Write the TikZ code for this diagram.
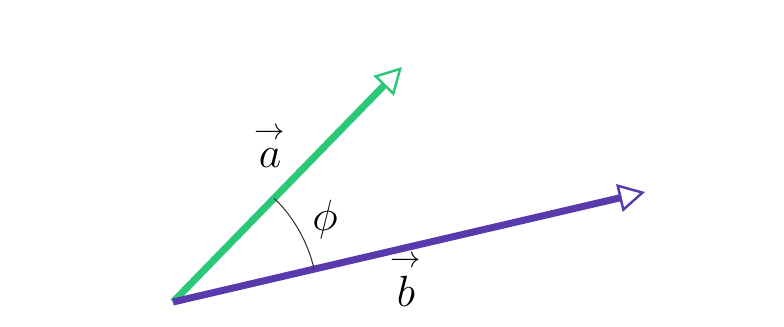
\documentclass[tikz,border=0pt]{standalone}
\usepackage{amsmath}
\usetikzlibrary{arrows.meta, calc}
\definecolor{vecgreen}{RGB}{44,200,122}
\definecolor{vecpurple}{RGB}{88,58,172}

\begin{document}
\begin{tikzpicture}[x=0.02cm, y=0.02cm,
  vecarrow/.style={line width=4pt,
    -{Triangle[open, length=15pt, width=16pt, line width=1.4pt]}},
  anglearc/.style={draw=black!80, line width=0.6pt},
  lbl/.style={font=\fontsize{26}{30}\selectfont, inner sep=1pt}]
  \useasboundingbox (0,0) rectangle (784,326);
  \coordinate (O) at (173,24);
  \coordinate (atip) at (402,259);
  \coordinate (btip) at (645,134);
  \draw[vecarrow, vecgreen] (O) -- (atip);
  \draw[vecarrow, vecpurple] (O) -- (btip);
  \draw[anglearc] ($(O)!2.9cm!(atip)$) arc[start angle=45.7, end angle=13.1, radius=2.9cm];
  \node[lbl] (alabel) at (270,180) {$\overset{\rightarrow}{a}$};
  \node[lbl] (philabel) at (325,106) {$\phi$};
  \node[lbl] (blabel) at (406,47) {$\overset{\rightarrow}{b}$};
\end{tikzpicture}
\end{document}
